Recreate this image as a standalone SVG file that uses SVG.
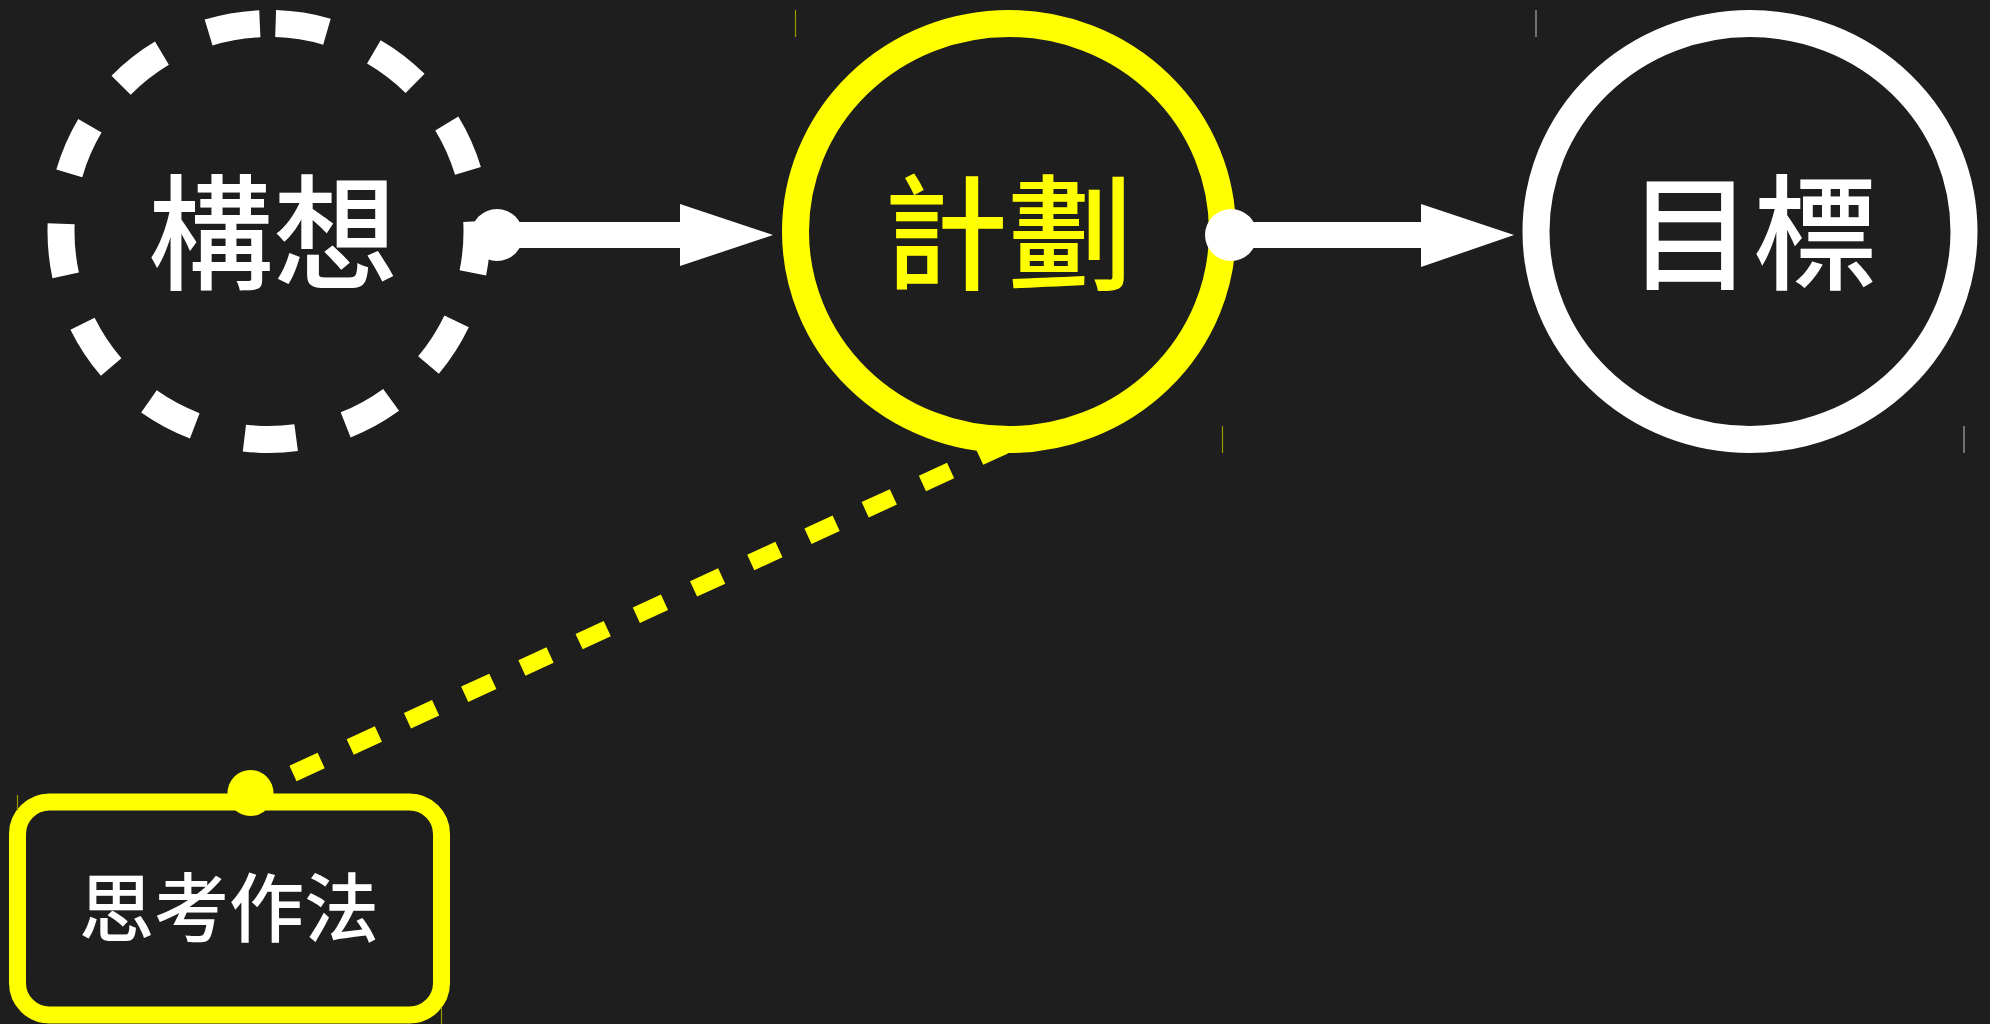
<svg xmlns="http://www.w3.org/2000/svg" width="1990" height="1024" viewBox="0 0 1990 1024">
  <style>
    .lbl { font-family: "Noto Sans CJK TC", "Noto Sans CJK JP", sans-serif; font-weight: 500; text-anchor: middle; dominant-baseline: central; }
    .big { font-size: 125px; }
    .small { font-size: 75px; }
    .w { fill: #ffffff; }
    .y { fill: #ffff00; }
    .tickY { stroke: #9a9a00; stroke-width: 1.2; }
    .tickW { stroke: #a8a8a8; stroke-width: 1.2; }
    .arrowLine { stroke: #ffffff; stroke-width: 26; fill: none; }
  </style>
  <rect x="0" y="0" width="1990" height="1024" fill="#1e1e1e"/>

  <g id="node-kousou">
    <path d="M 269 23.5 A 208 208 0 1 1 269 439.5 A 208 208 0 1 1 269 23.5 Z" fill="none" stroke="#ffffff" stroke-width="27" stroke-dasharray="52 51.2" stroke-dashoffset="-6.7"/>
    <text class="lbl big w" x="273" y="225">構想</text>
  </g>

  <g id="node-keikaku">
    <ellipse cx="1009" cy="231.5" rx="213.5" ry="208" fill="none" stroke="#ffff00" stroke-width="27"/>
    <line class="tickY" x1="795.5" y1="10" x2="795.5" y2="37"/>
    <line class="tickY" x1="1222.5" y1="426" x2="1222.5" y2="453"/>
    <text class="lbl big y" x="1008" y="225">計劃</text>
  </g>

  <g id="node-mokuhyou">
    <ellipse cx="1750" cy="231.5" rx="214" ry="208" fill="none" stroke="#ffffff" stroke-width="27"/>
    <line class="tickW" x1="1536" y1="10" x2="1536" y2="37"/>
    <line class="tickW" x1="1964" y1="426" x2="1964" y2="453"/>
    <text class="lbl big w" x="1753" y="225">目標</text>
  </g>

  <g id="node-shikou">
    <rect x="17.5" y="802" width="424" height="213" rx="32" ry="32" fill="none" stroke="#ffff00" stroke-width="17"/>
    <line class="tickY" x1="17.5" y1="795" x2="17.5" y2="810"/>
    <line class="tickY" x1="441.5" y1="1007" x2="441.5" y2="1024"/>
    <text class="lbl small w" x="229" y="903">思考作法</text>
  </g>

  <g id="connectors">
    <g id="edge-kousou-keikaku">
      <line class="arrowLine" x1="497" y1="235" x2="682" y2="235"/>
      <circle cx="497" cy="235" r="26" fill="#ffffff"/>
      <polygon points="680,204 773,235 680,266" fill="#ffffff"/>
    </g>
    <g id="edge-keikaku-mokuhyou">
      <line class="arrowLine" x1="1231" y1="235" x2="1423" y2="235"/>
      <circle cx="1231" cy="235" r="26" fill="#ffffff"/>
      <polygon points="1421,204 1514,235 1421,267" fill="#ffffff"/>
    </g>
    <g id="edge-shikou-keikaku">
      <line x1="250.5" y1="793" x2="1004.4" y2="445.7" stroke="#ffff00" stroke-width="17" stroke-dasharray="31 32" stroke-dashoffset="16.2" fill="none"/>
      <circle cx="250.5" cy="793" r="23" fill="#ffff00"/>
    </g>
  </g>
</svg>
